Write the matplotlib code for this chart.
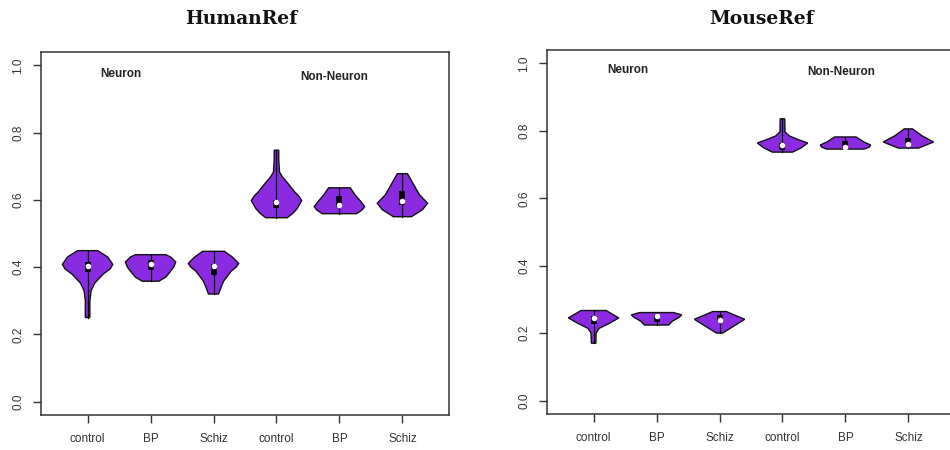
import matplotlib
matplotlib.use("Agg")
import matplotlib.pyplot as plt

# ---------------- data ----------------
tick_labels = ["control", "BP", "Schiz", "control", "BP", "Schiz"]
panel_titles = ["HumanRef", "MouseRef"]
group_labels = ["Neuron", "Non-Neuron"]

# Violin outlines: value levels and relative half-widths (max = 1)
human_levels = [
    [0.25, 0.30, 0.33, 0.352, 0.378, 0.395, 0.408, 0.43, 0.449],
    [0.358, 0.37, 0.388, 0.40, 0.415, 0.43, 0.437],
    [0.32, 0.34, 0.358, 0.388, 0.40, 0.411, 0.43, 0.447],
    [0.547, 0.56, 0.574, 0.598, 0.61, 0.624, 0.64, 0.654, 0.67, 0.683, 0.72, 0.748],
    [0.559, 0.57, 0.58, 0.595, 0.615, 0.636],
    [0.55, 0.571, 0.59, 0.615, 0.645, 0.678],
]
human_widths = [
    [0.09, 0.09, 0.14, 0.28, 0.6, 0.9, 1.0, 0.8, 0.4],
    [0.33, 0.6, 0.8, 0.92, 1.0, 0.8, 0.6],
    [0.2, 0.3, 0.4, 0.7, 0.9, 1.0, 0.75, 0.43],
    [0.43, 0.65, 0.82, 1.0, 0.9, 0.72, 0.55, 0.4, 0.22, 0.12, 0.09, 0.09],
    [0.68, 0.9, 1.0, 0.85, 0.62, 0.43],
    [0.36, 0.8, 1.0, 0.68, 0.45, 0.2],
]
human_median = [0.402, 0.409, 0.402, 0.595, 0.586, 0.598]
human_q1 = [0.385, 0.39, 0.378, 0.575, 0.578, 0.585]
human_q3 = [0.415, 0.42, 0.41, 0.60, 0.612, 0.625]

mouse_levels = [
    [0.17, 0.20, 0.214, 0.23, 0.245, 0.267],
    [0.224, 0.235, 0.247, 0.254, 0.261],
    [0.20, 0.22, 0.241, 0.255, 0.264],
    [0.737, 0.75, 0.764, 0.775, 0.785, 0.797, 0.836],
    [0.746, 0.752, 0.758, 0.767, 0.782],
    [0.749, 0.767, 0.785, 0.806],
]
mouse_widths = [
    [0.09, 0.1, 0.22, 0.65, 1.0, 0.5],
    [0.48, 0.62, 0.9, 1.0, 0.67],
    [0.12, 0.55, 1.0, 0.55, 0.27],
    [0.4, 0.75, 1.0, 0.6, 0.27, 0.1, 0.09],
    [0.74, 0.95, 1.0, 0.74, 0.42],
    [0.4, 1.0, 0.55, 0.16],
]
mouse_median = [0.245, 0.251, 0.239, 0.759, 0.753, 0.761]
mouse_q1 = [0.227, 0.232, 0.235, 0.742, 0.75, 0.757]
mouse_q3 = [0.25, 0.254, 0.255, 0.765, 0.77, 0.778]

# ---------------- style ----------------
FILL = "#8A2BE2"
EDGE = "#111111"
AXC = "#333333"
HALF = 0.40  # max half-width in category units
SANS = ["Liberation Sans", "DejaVu Sans"]

fig = plt.figure(figsize=(9.5, 4.5), dpi=100)
ax_pos = [
    [41 / 950, 35 / 450, 408 / 950, 363 / 450],
    [547 / 950, 36 / 450, 408 / 950, 364 / 450],
]
title_x = [241 / 950, 762 / 950]
group_pos = [
    [(1.52, 0.976), (4.92, 0.965)],
    [(1.54, 0.982), (4.93, 0.974)],
]
panels = [
    (human_levels, human_widths, human_median, human_q1, human_q3),
    (mouse_levels, mouse_widths, mouse_median, mouse_q1, mouse_q3),
]

for p, (levels, widths, med, q1, q3) in enumerate(panels):
    ax = fig.add_axes(ax_pos[p])
    ax.set_xlim(0.26, 6.74)
    ax.set_ylim(-0.04, 1.04)
    for i in range(len(levels)):
        x0 = i + 1
        ys = levels[i]
        ws = [w * HALF for w in widths[i]]
        xs = [x0 - w for w in ws] + [x0 + w for w in ws[::-1]]
        yy = ys + ys[::-1]
        ax.fill(xs, yy, facecolor=FILL, edgecolor=EDGE, linewidth=1.0, zorder=2)
        ax.plot([x0, x0], [ys[0], ys[-1]], color="black", linewidth=0.9, zorder=3)
        ax.plot([x0, x0], [q1[i], q3[i]], color="black", linewidth=4,
                solid_capstyle="butt", zorder=4)
        ax.scatter([x0], [med[i]], s=16, color="white", zorder=5, linewidths=0)
    ax.set_xticks(range(1, 7))
    ax.set_xticklabels(tick_labels, family=SANS, fontsize=8.5, color="#333333")
    ax.set_yticks([0.0, 0.2, 0.4, 0.6, 0.8, 1.0])
    ax.set_yticklabels(["0.0", "0.2", "0.4", "0.6", "0.8", "1.0"], family=SANS,
                       fontsize=8.5, color="#333333", rotation=90, va="center")
    ax.tick_params(axis="x", length=6, width=1, color=AXC, pad=7)
    ax.tick_params(axis="y", length=6, width=1, color=AXC, pad=6)
    for s in ax.spines.values():
        s.set_color(AXC)
        s.set_linewidth(1.1)
    for (gx, gy), lab in zip(group_pos[p], group_labels):
        ax.text(gx, gy, lab, ha="center", va="center", family=SANS,
                fontsize=8.5, fontweight="bold", color="#222222")
    fig.text(title_x[p], 1 - 19 / 450, panel_titles[p], ha="center", va="center",
             family=["DejaVu Serif"], fontsize=13.5, fontweight="bold", color="#111111")

fig.savefig("out.png", dpi=100)
